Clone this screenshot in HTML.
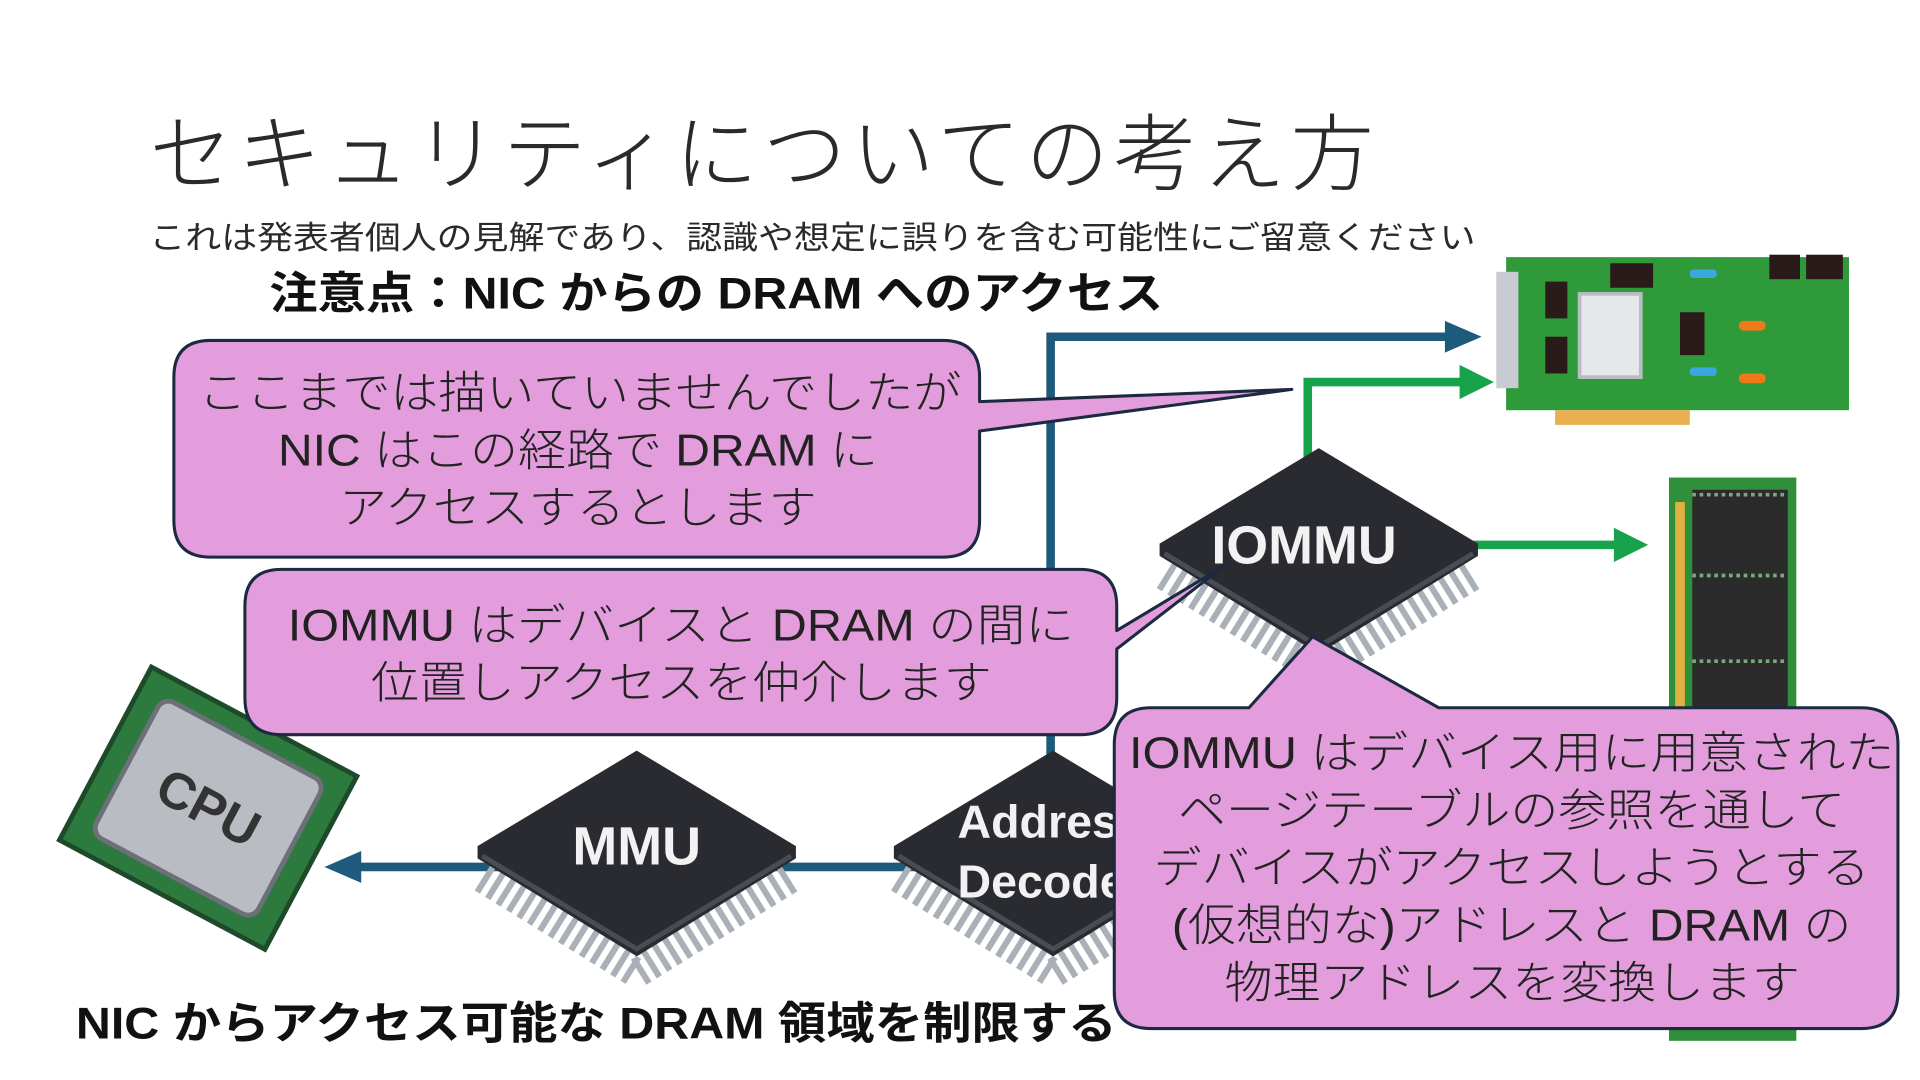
<!DOCTYPE html>
<html><head><meta charset="utf-8"><style>
html,body{margin:0;padding:0;background:#fff;width:1920px;height:1080px;overflow:hidden}
svg{display:block}
text{font-family:"Liberation Sans","Noto Sans CJK JP",sans-serif}
</style></head><body>
<svg width="1920" height="1080" viewBox="0 0 1568 882" xmlns="http://www.w3.org/2000/svg">
<defs>
<g id="chip">
 <polyline points="-126,12 0,90 126,12" fill="none" stroke="#a9b0b8" stroke-width="24" stroke-dasharray="5 5" transform="translate(0,8)"/>
 <polygon points="0,-84 130,-6 130,4 0,84 -130,4 -130,-6" fill="#2a2b30"/>
 <polyline points="-126,2 0,78 126,2" fill="none" stroke="#4a4c55" stroke-width="4"/>
</g>
</defs>
<rect width="1568" height="882" fill="#fff"/>

<text x="122" y="150" font-size="68" font-weight="300" fill="#2a2a2a" textLength="1000" lengthAdjust="spacing">セキュリティについての考え方</text>
<text x="122" y="203" font-size="26" fill="#2a2a2a" textLength="1083" lengthAdjust="spacingAndGlyphs">これは発表者個人の見解であり、認識や想定に誤りを含む可能性にご留意ください</text>
<text x="220" y="252" font-size="36" font-weight="bold" fill="#111" textLength="730" lengthAdjust="spacingAndGlyphs">注意点：NIC からの DRAM へのアクセス</text>

<g stroke="#1d5a7c" stroke-width="7" fill="none">
 <polyline points="858,620 858,275 1182,275"/>
 <line x1="292" y1="708" x2="800" y2="708"/>
</g>
<polygon points="1180,262 1210,275 1180,288" fill="#1d5a7c"/>
<polygon points="295,695 265,708 295,721" fill="#1d5a7c"/>
<g stroke="#17a24c" stroke-width="7" fill="none">
 <polyline points="1068,380 1068,312 1195,312"/>
 <line x1="1200" y1="445" x2="1320" y2="445"/>
</g>
<polygon points="1192,298 1220,312 1192,326" fill="#17a24c"/>
<polygon points="1318,431 1346,445 1318,459" fill="#17a24c"/>

<g>
 <rect x="1230" y="210" width="280" height="125" fill="#2e9a3a"/>
 <rect x="1222" y="222" width="18" height="95" fill="#c8ccd2"/>
 <rect x="1290" y="240" width="50" height="68" fill="#e6e7ea" stroke="#b8bcc4" stroke-width="3"/>
 <rect x="1262" y="230" width="18" height="30" fill="#2a1a1a"/><rect x="1262" y="275" width="18" height="30" fill="#2a1a1a"/>
 <rect x="1315" y="215" width="35" height="20" fill="#2a1a1a"/><rect x="1372" y="255" width="20" height="35" fill="#2a1a1a"/>
 <rect x="1445" y="208" width="25" height="20" fill="#2a1a1a"/><rect x="1475" y="208" width="30" height="20" fill="#2a1a1a"/>
 <rect x="1420" y="262" width="22" height="8" rx="4" fill="#f07a1a"/><rect x="1420" y="305" width="22" height="8" rx="4" fill="#f07a1a"/>
 <rect x="1380" y="220" width="22" height="7" rx="3" fill="#3aa7e0"/><rect x="1380" y="300" width="22" height="7" rx="3" fill="#3aa7e0"/>
 <rect x="1270" y="335" width="110" height="12" fill="#e8b050"/>
</g>
<g>
 <rect x="1363" y="390" width="104" height="460" fill="#2f8f3a"/>
 <rect x="1368" y="410" width="8" height="420" fill="#e0b040"/>
 <rect x="1382" y="400" width="78" height="440" fill="#2b2b2b"/>
 <g stroke="#7aa87a" stroke-width="3" stroke-dasharray="3 3">
  <line x1="1382" y1="404" x2="1460" y2="404"/><line x1="1382" y1="470" x2="1460" y2="470"/>
  <line x1="1382" y1="540" x2="1460" y2="540"/><line x1="1382" y1="610" x2="1460" y2="610"/>
 </g>
</g>
<g transform="translate(170,660) rotate(28)">
 <rect x="-95" y="-80" width="190" height="160" fill="#2c7a3e" stroke="#1f4a2a" stroke-width="4"/>
 <rect x="-75" y="-63" width="150" height="126" rx="10" fill="#b9bcc2" stroke="#6d7078" stroke-width="4"/>
 <text x="0" y="14" font-size="42" font-weight="bold" fill="#333" text-anchor="middle">CPU</text>
</g>

<use href="#chip" x="1077" y="450"/>
<text x="1065" y="460" font-size="44" font-weight="bold" fill="#f2f2f2" text-anchor="middle">IOMMU</text>
<use href="#chip" x="520" y="697"/>
<text x="520" y="706" font-size="44" font-weight="bold" fill="#f2f2f2" text-anchor="middle">MMU</text>
<use href="#chip" x="860" y="697"/>
<text x="782" y="684" font-size="38" font-weight="bold" fill="#f2f2f2">Address</text>
<text x="782" y="733" font-size="38" font-weight="bold" fill="#f2f2f2">Decoder</text>

<g fill="#e39ddc" stroke="#1b2a40" stroke-width="2.5" stroke-linejoin="round">
 <path d="M172,278 H770 Q800,278 800,308 V328 L1055,318 L800,352 V425 Q800,455 770,455 H172 Q142,455 142,425 V308 Q142,278 172,278 Z"/>
 <path d="M230,465 H882 Q912,465 912,495 V515 L1000,462 L912,530 V570 Q912,600 882,600 H230 Q200,600 200,570 V495 Q200,465 230,465 Z"/>
 <path d="M940,578 H1020 L1072,520 L1175,578 H1520 Q1550,578 1550,608 V810 Q1550,840 1520,840 H940 Q910,840 910,810 V608 Q910,578 940,578 Z"/>
</g>
<g font-size="36" fill="#222" font-weight="300" lengthAdjust="spacingAndGlyphs">
 <text x="162" y="333" textLength="623" lengthAdjust="spacingAndGlyphs">ここまでは描いていませんでしたが</text>
 <text x="227" y="380" textLength="490" lengthAdjust="spacingAndGlyphs">NIC はこの経路で DRAM に</text>
 <text x="277" y="427" textLength="390" lengthAdjust="spacingAndGlyphs">アクセスするとします</text>
 <text x="235" y="523" textLength="642" lengthAdjust="spacingAndGlyphs">IOMMU はデバイスと DRAM の間に</text>
 <text x="303" y="570" textLength="507" lengthAdjust="spacingAndGlyphs">位置しアクセスを仲介します</text>
 <text x="922" y="627" textLength="625" lengthAdjust="spacingAndGlyphs">IOMMU はデバイス用に用意された</text>
 <text x="962" y="674" textLength="545" lengthAdjust="spacingAndGlyphs">ページテーブルの参照を通して</text>
 <text x="942" y="721" textLength="585" lengthAdjust="spacingAndGlyphs">デバイスがアクセスしようとする</text>
 <text x="957" y="768" textLength="555" lengthAdjust="spacingAndGlyphs">(仮想的な)アドレスと DRAM の</text>
 <text x="1000" y="815" textLength="470" lengthAdjust="spacingAndGlyphs">物理アドレスを変換します</text>
</g>

<text x="62" y="848" font-size="36" font-weight="bold" fill="#111" textLength="850" lengthAdjust="spacingAndGlyphs">NIC からアクセス可能な DRAM 領域を制限する</text>
</svg>
</body></html>
